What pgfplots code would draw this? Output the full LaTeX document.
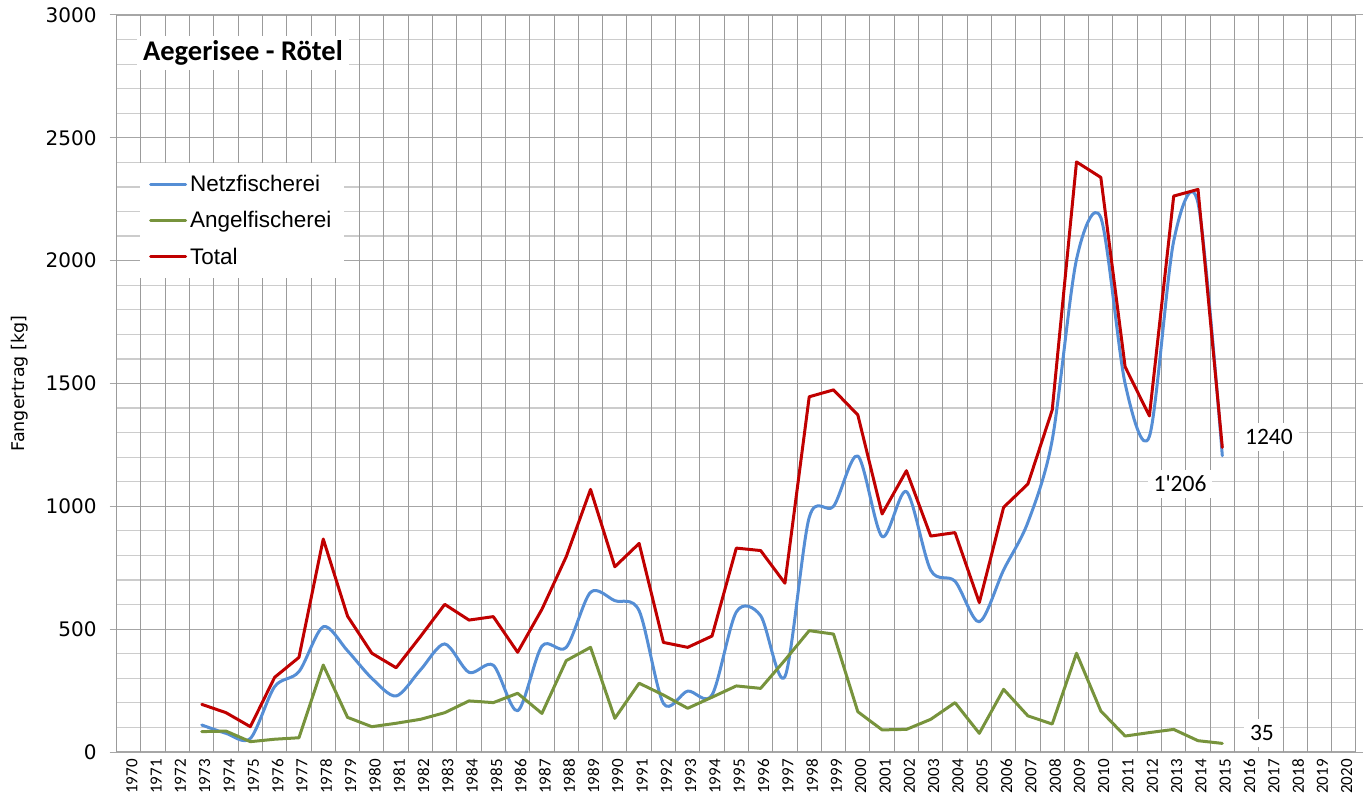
\documentclass[border=0pt]{standalone}
\usepackage{fontspec}
\setmainfont{Liberation Sans}
\newfontfamily\dejavu{DejaVu Sans}
\newfontfamily\carlito{Carlito}
\newfontfamily\carlitoq{Carlito}[Ligatures=TeXOff]
\usepackage{pgfplots}
\usepackage{pgfplotstable}
\pgfplotsset{compat=1.18}
\definecolor{cblue}{RGB}{85,142,213}
\definecolor{cgreen}{RGB}{119,147,60}
\definecolor{cred}{RGB}{192,0,0}
\definecolor{gridv}{RGB}{155,155,155}
\definecolor{gridh}{RGB}{204,204,204}
\definecolor{gridm}{RGB}{166,166,166}

\pgfplotstableread{
year netz angel total
1973 110 83 194
1974 76 85 160
1975 55 42 103
1976 266 52 304
1977 327 58 385
1978 510 354 867
1979 412 141 553
1980 300 103 402
1981 228 117 343
1982 334 133 470
1983 440 160 601
1984 324 208 537
1985 353 201 551
1986 168 239 406
1987 431 157 581
1988 426 372 795
1989 650 426 1069
1990 616 137 754
1991 575 280 849
1992 198 232 446
1993 248 178 426
1994 232 223 472
1995 570 269 830
1996 555 259 820
1997 307 374 687
1998 955 494 1446
1999 1000 480 1474
2000 1205 164 1372
2001 877 90 969
2002 1060 92 1145
2003 740 133 879
2004 695 201 893
2005 530 76 608
2006 741 255 996
2007 935 147 1091
2008 1270 114 1392
2009 2005 402 2402
2010 2175 167 2339
2011 1500 65 1568
2012 1285 79 1368
2013 2080 92 2263
2014 2235 46 2290
2015 1206 35 1240
}\datatable

\begin{document}
\begin{tikzpicture}
\useasboundingbox (-116.7bp,-51bp) rectangle (1251.3bp,752bp);
\begin{axis}[
  at={(0,0)}, anchor=south west,
  scale only axis,
  width=1239.3bp, height=737bp,
  xmin=1969.5, xmax=2020.5,
  ymin=0, ymax=3000,
  xtick={1970,...,2020},
  x tick style={draw=none},
  x tick label style={rotate=90, anchor=east, inner sep=0pt, yshift=-3bp,
    font=\carlito\fontsize{17bp}{18bp}\selectfont,
    /pgf/number format/1000 sep={}, /pgf/number format/assume math mode=true},
  extra x ticks={1969.5,1970.5,...,2020.5},
  extra x tick labels={},
  extra x tick style={grid=major, major grid style={draw=gridv, line width=1bp}, tick style={draw=none}},
  ytick={0,500,...,3000},
  minor y tick num=4,
  tick align=outside,
  major tick length=7bp,
  minor tick length=0pt,
  y tick style={draw=gridm, line width=1bp},
  y tick label style={inner sep=0pt, xshift=-13bp, anchor=east,
    font=\dejavu\fontsize{20bp}{22bp}\selectfont,
    /pgf/number format/1000 sep={}, /pgf/number format/assume math mode=true},
  ymajorgrids=true, yminorgrids=true,
  major grid style={draw=gridm, line width=1.2bp},
  minor grid style={draw=gridh, line width=1.2bp},
  axis line style={draw=gridm, line width=1bp},
  ylabel={Fangertrag [kg]},
  every axis y label/.style={at={(axis description cs:-0.0780,0.5)}, rotate=90, anchor=center,
    font=\dejavu\fontsize{17.5bp}{20bp}\selectfont},
  legend style={at={(0.0188,0.799)}, anchor=north west, draw=none, fill=white,
    font=\fontsize{22.5bp}{26bp}\selectfont, inner xsep=9bp, inner ysep=9bp,
    row sep=12.5bp, nodes={inner sep=3bp}},
  legend cell align=left,
  legend image code/.code={\draw[#1] (0bp,0bp) -- (35bp,0bp);},
  every axis plot/.append style={line width=3bp, line join=round, line cap=round},
]
\addplot[cblue, smooth] table[x=year, y=netz] {\datatable};
\addlegendentry{Netzfischerei}
\addplot[cgreen] table[x=year, y=angel] {\datatable};
\addlegendentry{Angelfischerei}
\addplot[cred] table[x=year, y=total] {\datatable};
\addlegendentry{Total}
\node[fill=white, inner xsep=6bp, inner ysep=4bp, minimum height=34bp,
  font=\carlito\bfseries\fontsize{28.5bp}{30bp}\selectfont]
  at (rel axis cs:0.1019,0.9484) {Aegerisee - Rötel};
\node[fill=white, inner sep=6bp, font=\carlitoq\fontsize{23.5bp}{26bp}\selectfont]
  at (axis cs:2016.92,1282) {1240};
\node[fill=white, inner sep=6bp, font=\carlitoq\fontsize{23.5bp}{26bp}\selectfont]
  at (axis cs:2013.26,1091) {1'206};
\node[fill=white, inner sep=6bp, font=\carlitoq\fontsize{23.5bp}{26bp}\selectfont]
  at (axis cs:2016.63,77) {35};
\end{axis}
\end{tikzpicture}
\end{document}
